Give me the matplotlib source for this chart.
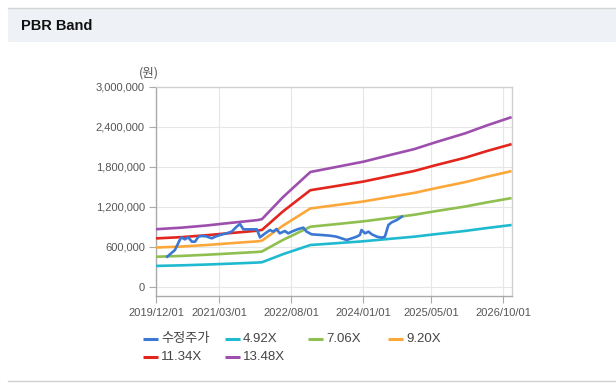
import matplotlib
matplotlib.use('Agg')
import matplotlib.pyplot as plt
import matplotlib.dates as mdates
from matplotlib.patches import Rectangle
from matplotlib.ticker import FuncFormatter
from datetime import datetime

plt.rcParams['font.family'] = ['Liberation Sans', 'Noto Sans CJK KR', 'DejaVu Sans']

# ---------------- data ----------------
price_dates = ["2020-02-20", "2020-04-15", "2020-05-20", "2020-06-01", "2020-06-25", "2020-07-20",
               "2020-08-15", "2020-09-07", "2020-10-01", "2020-10-25", "2020-11-25", "2021-01-05",
               "2021-01-30", "2021-03-05", "2021-04-22", "2021-05-28", "2021-07-03", "2021-07-27",
               "2021-08-20", "2021-10-07", "2021-11-25", "2021-12-18", "2022-01-24", "2022-02-28",
               "2022-03-22", "2022-04-16", "2022-05-09", "2022-06-15", "2022-07-08", "2022-08-14",
               "2022-09-20", "2022-10-25", "2022-11-18", "2022-12-24", "2023-03-05", "2023-05-04",
               "2023-06-21", "2023-07-27", "2023-09-02", "2023-10-09", "2023-11-13", "2023-12-06",
               "2023-12-18", "2024-01-12", "2024-02-06", "2024-03-01", "2024-04-06", "2024-05-11",
               "2024-06-03", "2024-06-28", "2024-07-22", "2024-08-28", "2024-10-03"]
price_values = [455000, 555000, 705000, 745000, 715000, 745000,
                680000, 680000, 755000, 765000, 760000, 730000,
                755000, 780000, 805000, 830000, 905000, 945000,
                865000, 865000, 865000, 745000, 805000, 855000,
                830000, 870000, 805000, 840000, 805000, 840000,
                870000, 890000, 830000, 790000, 780000, 770000,
                755000, 730000, 705000, 730000, 755000, 780000,
                855000, 805000, 830000, 790000, 755000, 740000,
                755000, 930000, 970000, 1005000, 1055000]

band_dates = ["2019-12-01", "2020-06-01", "2020-12-01", "2021-03-01", "2021-09-01", "2021-12-01",
              "2022-01-01", "2022-06-01", "2022-12-15", "2023-06-01", "2024-01-01", "2024-07-01",
              "2025-01-01", "2025-06-01", "2026-01-01", "2026-06-01", "2026-12-01"]
band_492 = [316000, 325000, 337000, 344000, 359000, 367000, 371000, 492000, 630000, 654000,
            686000, 721000, 755000, 792000, 841000, 883000, 930000]
band_706 = [454000, 466000, 484000, 494000, 515000, 526000, 533000, 706000, 904000, 939000,
            985000, 1034000, 1084000, 1137000, 1207000, 1267000, 1334000]
band_920 = [592000, 607000, 630000, 644000, 672000, 685000, 695000, 920000, 1178000, 1224000,
            1283000, 1348000, 1412000, 1481000, 1573000, 1651000, 1739000]
band_1134 = [729000, 748000, 777000, 794000, 828000, 845000, 856000, 1134000, 1452000, 1508000,
             1582000, 1661000, 1741000, 1826000, 1939000, 2036000, 2143000]
band_1348 = [867000, 890000, 923000, 944000, 984000, 1004000, 1018000, 1348000, 1725000, 1793000,
             1880000, 1975000, 2069000, 2170000, 2305000, 2420000, 2548000]

series_names = ["수정주가", "4.92X", "7.06X", "9.20X", "11.34X", "13.48X"]
series_colors = ["#3a78d4", "#1fbad0", "#8fbf4f", "#fca73a", "#e2261d", "#9d4fad"]

x_tick_dates = ["2019/12/01", "2021/03/01", "2022/08/01", "2024/01/01", "2025/05/01", "2026/10/01"]
y_ticks = [0, 600000, 1200000, 1800000, 2400000, 3000000]
unit_label = "(원)"
title_text = "PBR Band"

# ---------------- figure ----------------
def d(s):
    return datetime.strptime(s.replace("/", "-"), "%Y-%m-%d")

fig = plt.figure(figsize=(6.16, 3.89), dpi=100)
fig.patch.set_facecolor('white')

bg = fig.add_axes([0, 0, 1, 1])
bg.set_xlim(0, 616)
bg.set_ylim(389, 0)
bg.axis('off')
bg.add_patch(Rectangle((8, 8), 608, 34, facecolor='#eef2f7', edgecolor='none'))
bg.plot([8, 616], [7.5, 7.5], color='#d4d4d4', lw=1)
bg.plot([8, 616], [380.5, 380.5], color='#d0d0d0', lw=1)
bg.text(21, 25.5, title_text, fontsize=10.5, fontweight='bold', va='center', ha='left', color='#111111')
bg.text(149, 73, unit_label, fontsize=9, va='center', ha='center', color='#555555',
        family=['Noto Sans CJK KR', 'DejaVu Sans'])

ax = fig.add_axes([156 / 616, (389 - 296) / 389, 356 / 616, 209 / 389])
ax.set_facecolor('white')

bx = [d(s) for s in band_dates]
bands = [band_492, band_706, band_920, band_1134, band_1348]
for vals, c, n in zip(bands, series_colors[1:], series_names[1:]):
    ax.plot(bx, vals, color=c, lw=1.9, label=n, zorder=3, solid_capstyle='butt')
ax.plot([d(s) for s in price_dates], price_values, color=series_colors[0], lw=1.9,
        label=series_names[0], zorder=4, solid_joinstyle='round')

ax.set_xlim(datetime(2019, 12, 1), datetime(2026, 12, 4))
ax.set_ylim(-135000, 3000000)
ax.set_xticks([d(s) for s in x_tick_dates])
ax.set_xticklabels(x_tick_dates)
ax.set_yticks(y_ticks)
ax.yaxis.set_major_formatter(FuncFormatter(lambda v, p: f"{int(v):,}"))
ax.tick_params(axis='both', labelsize=8, labelcolor='#555555', color='#aaaaaa', length=5, width=0.8)
ax.tick_params(axis='y', pad=3)
ax.tick_params(axis='x', pad=4)
ax.grid(True, color='#e6e6e6', lw=0.8, zorder=0)
ax.set_axisbelow(True)
for side in ['left', 'bottom']:
    ax.spines[side].set_color('#aaaaaa')
for side in ['top', 'right']:
    ax.spines[side].set_color('#d0d0d0')
for s in ax.spines.values():
    s.set_linewidth(1.0)

# legend (manual, fixed-width columns like reference)
leg_pos = [(143, 339), (225, 339), (308, 339), (388, 339), (143, 357), (225, 357)]
for (lx, ly), n, c in zip(leg_pos, series_names, series_colors):
    bg.plot([lx, lx + 15], [ly, ly], color=c, lw=2.2, solid_capstyle='butt')
    bg.text(lx + 18, ly, n, fontsize=9.5, va='center', ha='left', color='#444444')

fig.savefig('out.png', dpi=100, facecolor='white')
